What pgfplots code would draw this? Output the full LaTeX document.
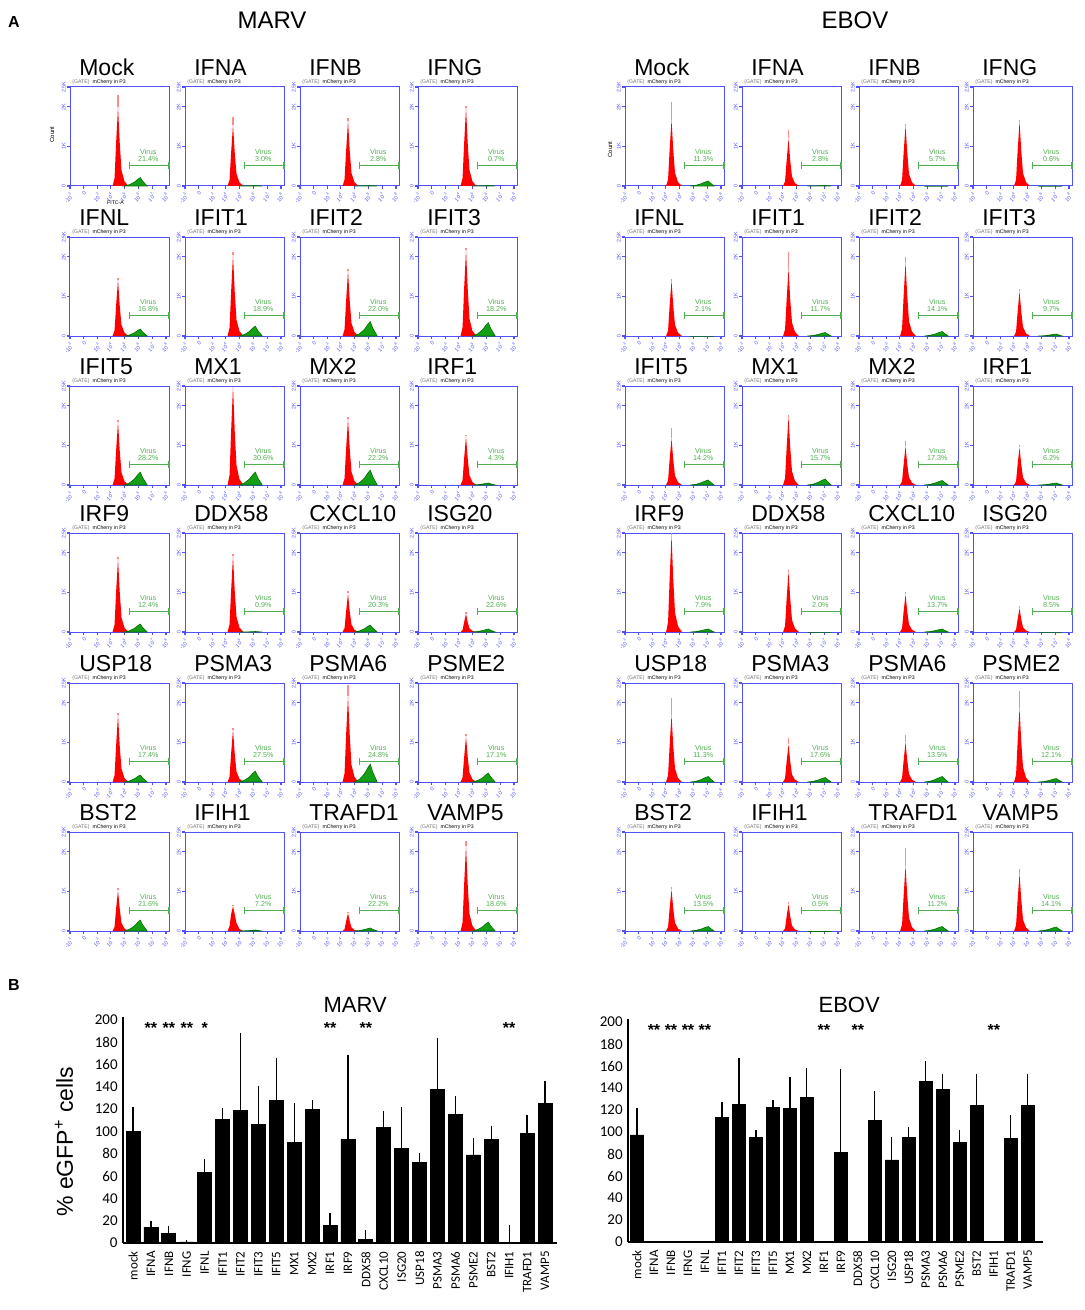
\documentclass[border=0pt]{standalone}
\usepackage{pgfplots}
\pgfplotsset{compat=1.18}
\usepackage{pgfplotstable}
\usepackage{fontspec}
\setmainfont{Liberation Sans}
\newfontfamily\carlito{Carlito}
\definecolor{histblue}{RGB}{80,80,255}
\definecolor{histred}{RGB}{255,0,0}
\definecolor{histgreen}{RGB}{20,160,20}
\definecolor{histgreendark}{RGB}{0,110,0}
\definecolor{gatecol}{RGB}{80,175,80}
\definecolor{spikecol}{RGB}{255,140,140}

\pgfplotsset{
 hist/.style={
  scale only axis, width=49.5pt, height=49.5pt, anchor=north west,
  xmin=0, xmax=10, ymin=0, ymax=100, clip=false,
  axis line style={histblue, line width=0.5pt},
  tick pos=left, tick align=outside,
  xtick={0,1.4,2.8,4.1,5.5,6.9,8.3,9.7},
  xticklabels={-10\textsuperscript{3},0,10\textsuperscript{3},10\textsuperscript{4},10\textsuperscript{5},10\textsuperscript{6},10\textsuperscript{7},10\textsuperscript{8}},
  ytick={0,40,80,100},
  yticklabels={0,1K,2K,2.5K},
  minor x tick num=2,
  major tick length=1.5pt, minor tick length=1pt,
  every tick/.style={histblue, line width=0.6pt},
  tick label style={histblue, font=\fontsize{2.7}{3}\selectfont, inner sep=0.5pt},
  x tick label style={rotate=45, anchor=north east},
  y tick label style={rotate=90, anchor=south},
 },
 bars/.style={
  scale only axis, anchor=south west, ybar, ymin=0, ymax=203, enlargelimits=false,
  ytick={0,20,...,200}, xtick={0,...,23},
  xticklabels={mock,IFNA,IFNB,IFNG,IFNL,IFIT1,IFIT2,IFIT3,IFIT5,MX1,MX2,IRF1,IRF9,DDX58,CXCL10,ISG20,USP18,PSMA3,PSMA6,PSME2,BST2,IFIH1,TRAFD1,VAMP5},
  axis x line*=bottom, axis y line*=left, axis line style={-, line width=1pt},
  major tick length=0pt, clip=false,
  x tick label style={rotate=90, anchor=east, font=\carlito\fontsize{6.5}{7}\selectfont, inner sep=2.5pt},
  xticklabel shift=1.5pt,
  y tick label style={font=\carlito\fontsize{7.5}{8}\selectfont, inner sep=2.5pt},
  /pgf/number format/assume math mode=true,
 },
}

% MARV red peaks (mCherry), one column per condition
\pgfplotstableread{
x Mock IFNA IFNB IFNG IFNL IFIT1 IFIT2 IFIT3 IFIT5 MX1 MX2 IRF1 IRF9 DDX58 CXCL10 ISG20 USP18 PSMA3 PSMA6 PSME2 BST2 IFIH1 TRAFD1 VAMP5
4.30 0 0 0 0 0 0 0 0 0 0 0 0 0 0 0 0 0 0 0 0 0 0 0 0
4.50 8 6.2 6.6 7.9 5.7 8.2 6.6 8.7 6.4 10 6.7 4.9 7.4 7.7 3.9 1.9 6.8 5.3 8.7 4.6 4.1 5 1.8 8.6
4.66 44 34 36 43 31 45 36 48 35 55 37 27 41 42 21 10 37 29 48 25 23 17 10 47
4.85 80 62 66 79 57 82 66 87 64 100 67 49 74 77 39 18.5 68 53 87 46 41 25 18 86
5.02 44 34 36 43 31 45 36 48 35 55 37 27 41 42 21 10 37 29 48 25 23 17 10 47
5.20 16 12.4 13 16 11.4 16.4 13 17.4 12.8 20 13.4 9.8 14.8 15.4 7.8 3.7 13.6 10.6 17.4 9.2 8.2 8 3.6 17.2
5.50 4.8 3.7 4 4.7 3.4 4.9 4 5.2 3.8 6 4 2.9 4.4 4.6 2.3 1.1 4.1 3.2 5.2 2.8 2.5 2 1.1 5.2
5.90 0 0 0 0 0 0 0 0 0 0 0 0 0 0 0 0 0 0 0 0 0 0 0 0
}\marvred
% MARV green peaks (virus)
\pgfplotstableread{
x Mock IFNA IFNB IFNG IFNL IFIT1 IFIT2 IFIT3 IFIT5 MX1 MX2 IRF1 IRF9 DDX58 CXCL10 ISG20 USP18 PSMA3 PSMA6 PSME2 BST2 IFIH1 TRAFD1 VAMP5
5.50 0 0 0 0 0 0 0 0 0 0 0 0 0 0 0 0 0 0 0 0 0 0 0 0
6.00 1.3 0.1 0.1 0.1 1 1.5 2.2 2 2 2 2.3 0.3 1.2 0.1 1 0.5 1 1.7 2.7 1.4 1.7 0.2 0.5 1.4
6.50 3.8 0.2 0.2 0.2 3.2 4.5 6.5 6.1 5.9 5.9 6.8 0.9 3.6 0.2 3.2 1.4 3.2 5 8.1 4 5 0.5 1.4 4
6.85 6.8 0.4 0.4 0.4 5.6 8 11.6 10.8 10.4 10.4 12 1.6 6.4 0.4 5.6 2.4 5.6 8.8 14.4 7.2 8.8 0.8 2.4 7.2
7.10 8.5 0.5 0.5 0.5 7 10 14.5 13.5 13 13 15 2 8 0.5 7 3 7 11 18 9 11 1 3 9
7.35 4.7 0.3 0.3 0.3 3.9 5.5 8 7.4 7.2 7.2 8.3 1.1 4.4 0.3 3.9 1.7 3.9 6 9.9 5 6 0.6 1.7 5
7.80 0 0 0 0 0 0 0 0 0 0 0 0 0 0 0 0 0 0 0 0 0 0 0 0
}\marvgreen
% EBOV red peaks
\pgfplotstableread{
x Mock IFNA IFNB IFNG IFNL IFIT1 IFIT2 IFIT3 IFIT5 MX1 MX2 IRF1 IRF9 DDX58 CXCL10 ISG20 USP18 PSMA3 PSMA6 PSME2 BST2 IFIH1 TRAFD1 VAMP5
4.15 0 0 0 0 0 0 0 0 0 0 0 0 0 0 0 0 0 0 0 0 0 0 0 0
4.35 6.7 4.8 6.1 6.5 5.6 6.8 7.4 4.5 4.7 6.9 3.9 3.8 9.8 6.1 3.8 2.4 6.8 3.8 4 7.5 4.2 2.7 6.6 5.8
4.51 37 26 34 36 31 37 41 25 26 38 21 21 54 34 21 13 37 21 22 41 23 15 36 32
4.70 67 48 61 65 56 68 74 45 47 69 39 38 98 61 38 24 68 38 40 75 42 27 66 58
4.87 37 26 34 36 31 37 41 25 26 38 21 21 54 34 21 13 37 21 22 41 23 15 36 32
5.05 13.4 9.6 12.2 13 11.2 13.6 14.8 9 9.4 13.8 7.8 7.6 19.6 12.2 7.6 4.8 13.6 7.6 8 15 8.4 5.4 13.2 11.6
5.35 4 2.9 3.7 3.9 3.4 4.1 4.4 2.7 2.8 4.1 2.3 2.3 5.9 3.7 2.3 1.4 4.1 2.3 2.4 4.5 2.5 1.6 4 3.5
5.75 0 0 0 0 0 0 0 0 0 0 0 0 0 0 0 0 0 0 0 0 0 0 0 0
}\ebovred
% EBOV green peaks
\pgfplotstableread{
x Mock IFNA IFNB IFNG IFNL IFIT1 IFIT2 IFIT3 IFIT5 MX1 MX2 IRF1 IRF9 DDX58 CXCL10 ISG20 USP18 PSMA3 PSMA6 PSME2 BST2 IFIH1 TRAFD1 VAMP5
6.60 0 0 0 0 0 0 0 0 0 0 0 0 0 0 0 0 0 0 0 0 0 0 0 0
7.20 0.8 0.1 0 0 0 0.5 0.7 0.3 0.8 0.9 0.7 0.3 0.5 0 0.5 0 0.8 0.7 0.8 0.5 0.7 0 0.7 0.6
7.70 2.3 0.2 0 0 0 1.6 2 0.9 2.3 2.7 2 0.9 1.4 0 1.4 0 2.5 2 2.5 1.6 2 0 2 1.8
8.10 4 0.4 0 0 0 2.8 3.6 1.6 4 4.8 3.6 1.6 2.4 0 2.4 0 4.4 3.6 4.4 2.8 3.6 0 3.6 3.2
8.40 5 0.5 0 0 0 3.5 4.5 2 5 6 4.5 2 3 0 3 0 5.5 4.5 5.5 3.5 4.5 0 4.5 4
8.65 2.8 0.3 0 0 0 1.9 2.5 1.1 2.8 3.3 2.5 1.1 1.7 0 1.7 0 3 2.5 3 1.9 2.5 0 2.5 2.2
9.00 0 0 0 0 0 0 0 0 0 0 0 0 0 0 0 0 0 0 0 0 0 0 0 0
}\ebovgreen

\newcommand{\histtitle}{\fontsize{11.5}{12}\selectfont}
\newcommand{\hdr}{\fontsize{2.6}{3}\selectfont}
\newcommand{\gatefont}{\fontsize{3.6}{3.8}\selectfont}
\newcommand{\histextra}{}
% #1 x, #2 y, #3 name, #4 red table, #5 green table, #6 peak x, #7 peak, #8 spike top, #9 gate value
\newcommand{\hist}[9]{%
\begin{axis}[hist, at={(#1pt,#2pt)}]
\addplot[draw=none, fill=histred] table[x=x, y=#3] {#4} \closedcycle;
\addplot[draw=histgreendark, line width=0.3pt, fill=histgreen] table[x=x, y=#3] {#5} \closedcycle;
\addplot[spikecol, line width=0.6pt] coordinates {(#6,#7) (#6,#8)};
\addplot[gatecol, line width=0.5pt] coordinates {(6.0,21) (10,21)};
\addplot[gatecol, line width=0.5pt] coordinates {(6.0,17.5) (6.0,24.5)};
\addplot[gatecol, line width=0.6pt] coordinates {(10,17.5) (10,24.5)};
\node[anchor=base west, font=\histtitle, inner sep=0pt] at (rel axis cs:0.09,1.12) {#3};
\node[anchor=south west, font=\hdr, inner sep=0pt] at (rel axis cs:0.02,1.025) {\textcolor{black!55}{(GATE)}\ \ mCherry in P3};
\node[gatecol, font=\gatefont, align=center, inner sep=0pt, anchor=south] at (axis cs:7.9,24) {Virus\\#9};
\histextra
\end{axis}}

\begin{document}
\begin{tikzpicture}
\useasboundingbox (0,0) rectangle (542pt,-655pt);
\node[font=\bfseries\fontsize{8}{9}\selectfont] at (7pt,-11pt) {A};
\node[font=\bfseries\fontsize{8}{9}\selectfont] at (7pt,-492.5pt) {B};
\node[font=\fontsize{12}{13}\selectfont] at (136pt,-10pt) {MARV};
\node[font=\fontsize{12}{13}\selectfont] at (427.5pt,-10pt) {EBOV};

% ---------------- MARV histograms ----------------
\renewcommand{\histextra}{%
 \node[rotate=90, font=\fontsize{3}{3.5}\selectfont] at (rel axis cs:-0.18,0.52) {Count};
 \node[font=\fontsize{2.6}{2.8}\selectfont, inner sep=0pt] at (rel axis cs:0.46,-0.165) {FITC-A};}
\hist{35}{-43.5}{Mock}{\marvred}{\marvgreen}{4.85}{80}{92}{21.4\%}
\renewcommand{\histextra}{}
\hist{92.5}{-43.5}{IFNA}{\marvred}{\marvgreen}{4.85}{62}{70}{3.0\%}
\hist{150}{-43.5}{IFNB}{\marvred}{\marvgreen}{4.85}{66}{69}{2.8\%}
\hist{209}{-43.5}{IFNG}{\marvred}{\marvgreen}{4.85}{79}{81}{0.7\%}

\hist{35}{-118.5}{IFNL}{\marvred}{\marvgreen}{4.85}{57}{59}{16.8\%}
\hist{92.5}{-118.5}{IFIT1}{\marvred}{\marvgreen}{4.85}{82}{85}{18.9\%}
\hist{150}{-118.5}{IFIT2}{\marvred}{\marvgreen}{4.85}{66}{68}{22.0\%}
\hist{209}{-118.5}{IFIT3}{\marvred}{\marvgreen}{4.85}{87}{89}{18.2\%}

\hist{35}{-193}{IFIT5}{\marvred}{\marvgreen}{4.85}{64}{66}{28.2\%}
\hist{92.5}{-193}{MX1}{\marvred}{\marvgreen}{4.85}{100}{100}{30.6\%}
\hist{150}{-193}{MX2}{\marvred}{\marvgreen}{4.85}{67}{69}{22.2\%}
\hist{209}{-193}{IRF1}{\marvred}{\marvgreen}{4.85}{49}{51}{4.3\%}

\hist{35}{-266.5}{IRF9}{\marvred}{\marvgreen}{4.85}{74}{76}{12.4\%}
\hist{92.5}{-266.5}{DDX58}{\marvred}{\marvgreen}{4.85}{77}{79}{0.9\%}
\hist{150}{-266.5}{CXCL10}{\marvred}{\marvgreen}{4.85}{39}{41}{20.3\%}
\hist{209}{-266.5}{ISG20}{\marvred}{\marvgreen}{4.85}{18.5}{20}{22.6\%}

\hist{35}{-341.5}{USP18}{\marvred}{\marvgreen}{4.85}{68}{70}{17.4\%}
\hist{92.5}{-341.5}{PSMA3}{\marvred}{\marvgreen}{4.85}{53}{55}{27.5\%}
\hist{150}{-341.5}{PSMA6}{\marvred}{\marvgreen}{4.85}{87}{98}{24.8\%}
\hist{209}{-341.5}{PSME2}{\marvred}{\marvgreen}{4.85}{46}{48}{17.1\%}

\hist{35}{-416}{BST2}{\marvred}{\marvgreen}{4.85}{41}{43}{21.6\%}
\hist{92.5}{-416}{IFIH1}{\marvred}{\marvgreen}{4.85}{25}{26}{7.2\%}
\hist{150}{-416}{TRAFD1}{\marvred}{\marvgreen}{4.85}{18}{19}{22.2\%}
\hist{209}{-416}{VAMP5}{\marvred}{\marvgreen}{4.85}{86}{91}{18.6\%}

% ---------------- EBOV histograms ----------------
\renewcommand{\histextra}{%
 \node[rotate=90, font=\fontsize{3}{3.5}\selectfont] at (rel axis cs:-0.15,0.37) {Count};}
\hist{312.5}{-43.5}{Mock}{\ebovred}{\ebovgreen}{4.7}{67}{85}{11.3\%}
\renewcommand{\histextra}{}
\hist{371}{-43.5}{IFNA}{\ebovred}{\ebovgreen}{4.7}{48}{57}{2.8\%}
\hist{429.5}{-43.5}{IFNB}{\ebovred}{\ebovgreen}{4.7}{61}{63}{5.7\%}
\hist{486.5}{-43.5}{IFNG}{\ebovred}{\ebovgreen}{4.7}{65}{67}{0.6\%}

\hist{312.5}{-118.5}{IFNL}{\ebovred}{\ebovgreen}{4.7}{56}{58}{2.1\%}
\hist{371}{-118.5}{IFIT1}{\ebovred}{\ebovgreen}{4.7}{68}{85}{11.7\%}
\hist{429.5}{-118.5}{IFIT2}{\ebovred}{\ebovgreen}{4.7}{74}{80}{14.1\%}
\hist{486.5}{-118.5}{IFIT3}{\ebovred}{\ebovgreen}{4.7}{45}{47}{9.7\%}

\hist{312.5}{-193}{IFIT5}{\ebovred}{\ebovgreen}{4.7}{47}{58}{14.2\%}
\hist{371}{-193}{MX1}{\ebovred}{\ebovgreen}{4.7}{69}{71}{15.7\%}
\hist{429.5}{-193}{MX2}{\ebovred}{\ebovgreen}{4.7}{39}{44}{17.3\%}
\hist{486.5}{-193}{IRF1}{\ebovred}{\ebovgreen}{4.7}{38}{40}{6.2\%}

\hist{312.5}{-266.5}{IRF9}{\ebovred}{\ebovgreen}{4.7}{98}{100}{7.9\%}
\hist{371}{-266.5}{DDX58}{\ebovred}{\ebovgreen}{4.7}{61}{63}{2.0\%}
\hist{429.5}{-266.5}{CXCL10}{\ebovred}{\ebovgreen}{4.7}{38}{40}{13.7\%}
\hist{486.5}{-266.5}{ISG20}{\ebovred}{\ebovgreen}{4.7}{24}{26}{8.5\%}

\hist{312.5}{-341.5}{USP18}{\ebovred}{\ebovgreen}{4.7}{68}{85}{11.3\%}
\hist{371}{-341.5}{PSMA3}{\ebovred}{\ebovgreen}{4.7}{38}{44}{17.6\%}
\hist{429.5}{-341.5}{PSMA6}{\ebovred}{\ebovgreen}{4.7}{40}{47}{13.5\%}
\hist{486.5}{-341.5}{PSME2}{\ebovred}{\ebovgreen}{4.7}{75}{92}{12.1\%}

\hist{312.5}{-416}{BST2}{\ebovred}{\ebovgreen}{4.7}{42}{44}{13.5\%}
\hist{371}{-416}{IFIH1}{\ebovred}{\ebovgreen}{4.7}{27}{29}{0.5\%}
\hist{429.5}{-416}{TRAFD1}{\ebovred}{\ebovgreen}{4.7}{66}{84}{11.2\%}
\hist{486.5}{-416}{VAMP5}{\ebovred}{\ebovgreen}{4.7}{58}{63}{14.1\%}

% ---------------- Panel B: MARV ----------------
\begin{axis}[bars, at={(61.5pt,-621.5pt)}, width=217pt, height=113.2pt,
  xmin=-0.56, xmax=23.67, bar width=7pt,
  ylabel={\% eGFP\textsuperscript{+} cells},
  ylabel style={at={(axis description cs:-0.136,0.447)}, anchor=center, font=\fontsize{11.5}{12}\selectfont}]
\addplot[fill=black, draw=black,
  error bars/.cd, y dir=plus, y explicit,
  error bar style={black, line width=0.6pt},
  error mark options={black, mark size=1.2pt, line width=0.6pt}]
 coordinates {
 (0,100) +- (0,20)
 (1,14.3) +- (0,3)
 (2,8.4) +- (0,5)
 (3,1) +- (0,0)
 (4,63) +- (0,10)
 (5,111) +- (0,8)
 (6,119) +- (0,67)
 (7,106) +- (0,33)
 (8,128) +- (0,36)
 (9,90) +- (0,33)
 (10,120) +- (0,6)
 (11,16) +- (0,8.5)
 (12,93) +- (0,73)
 (13,3) +- (0,6.6)
 (14,104) +- (0,12)
 (15,85) +- (0,35)
 (16,72) +- (0,7)
 (17,138) +- (0,44)
 (18,115.5) +- (0,14)
 (19,79) +- (0,13)
 (20,92.5) +- (0,10.5)
 (21,0.5) +- (0,13.5)
 (22,98.5) +- (0,14)
 (23,125.4) +- (0,18)
 };
\node[font=\fontsize{11}{12}\selectfont] at (rel axis cs:0.535,1.053) {MARV};
\pgfplotsinvokeforeach{1,2,3,11,13,21}{\node[font=\bfseries\fontsize{8}{8}\selectfont, yshift=-1.5pt] at (axis cs:#1,195.5) {**};}
\node[font=\bfseries\fontsize{8}{8}\selectfont, yshift=-1.5pt] at (axis cs:4,195.5) {*};
\end{axis}

% ---------------- Panel B: EBOV ----------------
\begin{axis}[bars, at={(314pt,-621pt)}, width=207.5pt, height=111.65pt,
  xmin=-0.53, xmax=23.9, bar width=6.65pt]
\addplot[fill=black, draw=black,
  error bars/.cd, y dir=plus, y explicit,
  error bar style={black, line width=0.6pt},
  error mark options={black, mark size=1.2pt, line width=0.6pt}]
 coordinates {
 (0,97.3) +- (0,22.7)
 (5,113) +- (0,12.4)
 (6,125.4) +- (0,39.6)
 (7,94.9) +- (0,4.8)
 (8,122.4) +- (0,4.5)
 (9,121.5) +- (0,26.2)
 (10,131.4) +- (0,24.2)
 (12,81.3) +- (0,73.4)
 (14,110.3) +- (0,24.7)
 (15,74.6) +- (0,19.1)
 (16,94.9) +- (0,7.5)
 (17,146.2) +- (0,16)
 (18,138.7) +- (0,12.3)
 (19,90.3) +- (0,9.4)
 (20,123.9) +- (0,27.1)
 (22,94.3) +- (0,18.7)
 (23,123.9) +- (0,27.1)
 };
\node[font=\fontsize{11}{12}\selectfont] at (rel axis cs:0.533,1.063) {EBOV};
\pgfplotsinvokeforeach{1,2,3,4,11,13,21}{\node[font=\bfseries\fontsize{8}{8}\selectfont, yshift=-1.5pt] at (axis cs:#1,195.4) {**};}
\end{axis}
\end{tikzpicture}
\end{document}
